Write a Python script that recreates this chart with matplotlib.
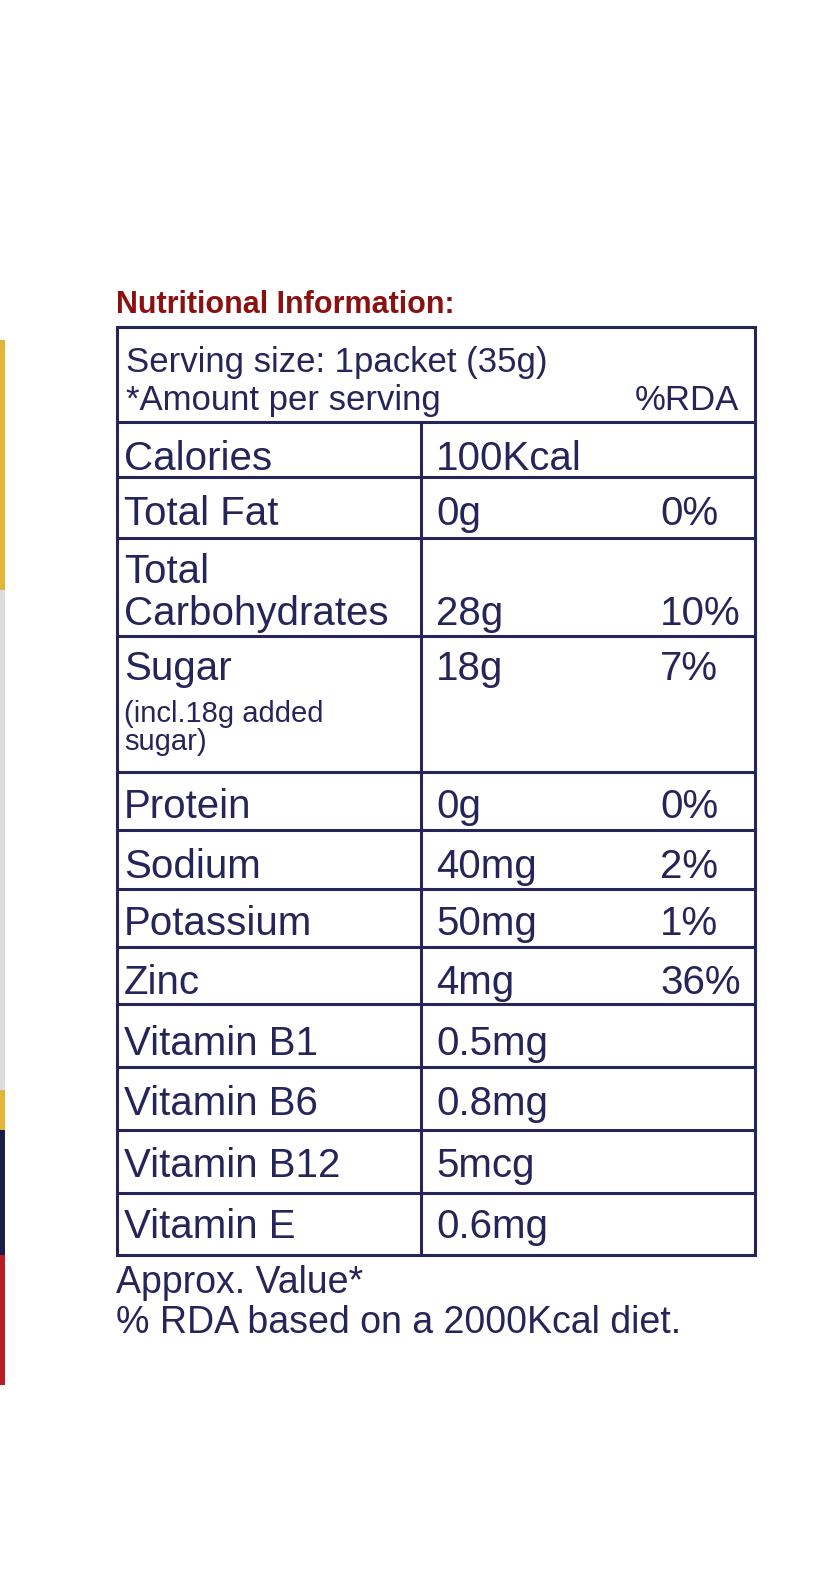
import matplotlib.pyplot as plt
from matplotlib.patches import Rectangle

navy = '#25255a'
font = 'Liberation Sans'

nutrients = ['Calories', 'Total Fat', 'Total\nCarbohydrates', 'Sugar', 'Protein', 'Sodium',
             'Potassium', 'Zinc', 'Vitamin B1', 'Vitamin B6', 'Vitamin B12', 'Vitamin E']
amounts = ['100Kcal', '0g', '28g', '18g', '0g', '40mg', '50mg', '4mg',
           '0.5mg', '0.8mg', '5mcg', '0.6mg']
rda = ['', '0%', '10%', '7%', '0%', '2%', '1%', '36%', '', '', '', '']

# layout in pixels (y down)
row_lines = [327, 422, 477, 538, 636, 772, 830, 889, 947, 1004, 1067, 1130, 1193, 1255]
baselines = [470, 525, 625, 680, 818, 878, 935, 994, 1055, 1115, 1177, 1238]
x_left, x_mid, x_right = 117, 421, 755

fig = plt.figure(figsize=(8.25, 15.7), dpi=100)
ax = fig.add_axes([0, 0, 1, 1])
ax.set_xlim(0, 825)
ax.set_ylim(1570, 0)
ax.axis('off')

# coloured strip at left edge
for y0, y1, c in [(340, 590, '#e2b53a'), (590, 1090, '#dcdcdc'), (1090, 1130, '#e2b53a'),
                  (1130, 1255, '#1c1c48'), (1255, 1385, '#b81c24')]:
    ax.add_patch(Rectangle((0, y0), 5, y1 - y0, color=c, lw=0))

ax.text(116, 313, 'Nutritional Information:', color='#8b1010', fontsize=22,
        fontweight='heavy', family=font, va='baseline')

# table frame
ax.add_patch(Rectangle((x_left, 327), x_right - x_left, 1255 - 327, fill=False,
                       ec=navy, lw=2.2))
for y in row_lines[1:-1]:
    ax.plot([x_left, x_right], [y, y], color=navy, lw=2.2)
ax.plot([x_mid, x_mid], [422, 1255], color=navy, lw=2.2)

kw = dict(color=navy, family=font, va='baseline')
ax.text(126, 372, 'Serving size: 1packet (35g)', fontsize=25, **kw)
ax.text(126, 410, '*Amount per serving', fontsize=25, **kw)
ax.text(635, 410, '%RDA', fontsize=25, **kw)

for name, amt, pct, yb in zip(nutrients, amounts, rda, baselines):
    if '\n' in name:
        a, b = name.split('\n')
        ax.text(124, 583, a, fontsize=29, **kw)
        ax.text(124, yb, b, fontsize=29, **kw)
    else:
        ax.text(124, yb, name, fontsize=29, **kw)
    ax.text(436, yb, amt, fontsize=29, **kw)
    ax.text(660, yb, pct, fontsize=29, **kw)

ax.text(124, 722, '(incl.18g added', fontsize=21, **kw)
ax.text(124, 750, 'sugar)', fontsize=21, **kw)

ax.text(116, 1293, 'Approx. Value*', fontsize=27, **kw)
ax.text(116, 1333, '% RDA based on a 2000Kcal diet.', fontsize=27, **kw)

fig.savefig('out.png', dpi=100, facecolor='white')
